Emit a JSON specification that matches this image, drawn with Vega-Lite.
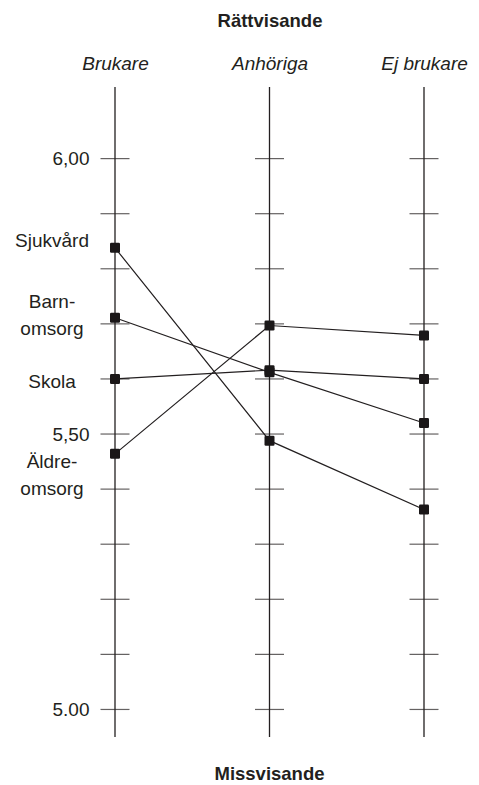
{
  "$schema": "https://vega.github.io/schema/vega-lite/v6.json",
  "width": 309,
  "height": 650,
  "autosize": {"type": "none"},
  "padding": {"left": 115, "top": 87, "right": 55, "bottom": 48},
  "background": "white",
  "config": {
    "view": {"stroke": null},
    "font": "Liberation Sans",
    "axisY": {
      "labelFontSize": 19,
      "labelColor": "#231f20",
      "labelPadding": 26,
      "ticks": false,
      "tickSize": 0,
      "domain": false,
      "grid": false,
      "labelOverlap": false,
      "labelBound": false,
      "labelFlush": false
    }
  },
  "title": {"text": "Missvisande", "orient": "bottom", "anchor": "middle", "frame": "group", "fontSize": 18.5, "fontWeight": "bold", "color": "#231f20", "offset": 27, "font": "Liberation Sans"},
  "datasets": {
    "main": [
      {"group": "Brukare", "category": "Sjukvård", "value": 5.838},
      {"group": "Anhöriga", "category": "Sjukvård", "value": 5.488},
      {"group": "Ej brukare", "category": "Sjukvård", "value": 5.363},
      {"group": "Brukare", "category": "Barnomsorg", "value": 5.711},
      {"group": "Anhöriga", "category": "Barnomsorg", "value": 5.612},
      {"group": "Ej brukare", "category": "Barnomsorg", "value": 5.520},
      {"group": "Brukare", "category": "Skola", "value": 5.600},
      {"group": "Anhöriga", "category": "Skola", "value": 5.616},
      {"group": "Ej brukare", "category": "Skola", "value": 5.600},
      {"group": "Brukare", "category": "Äldreomsorg", "value": 5.464},
      {"group": "Anhöriga", "category": "Äldreomsorg", "value": 5.697},
      {"group": "Ej brukare", "category": "Äldreomsorg", "value": 5.679}
    ],
    "axes": [
      {"group": "Brukare", "tick": [5.0, 5.1, 5.2, 5.3, 5.4, 5.5, 5.6, 5.7, 5.8, 5.9, 6.0]},
      {"group": "Anhöriga", "tick": [5.0, 5.1, 5.2, 5.3, 5.4, 5.5, 5.6, 5.7, 5.8, 5.9, 6.0]},
      {"group": "Ej brukare", "tick": [5.0, 5.1, 5.2, 5.3, 5.4, 5.5, 5.6, 5.7, 5.8, 5.9, 6.0]}
    ],
    "labels": [
      {"group": "Brukare", "label": "Sjukvård", "pos": 5.85},
      {"group": "Brukare", "label": "Barn-\nomsorg", "pos": 5.740},
      {"group": "Brukare", "label": "Skola", "pos": 5.594},
      {"group": "Brukare", "label": "Äldre-\nomsorg", "pos": 5.449}
    ]
  },
  "encoding": {
    "x": {
      "field": "group",
      "type": "nominal",
      "scale": {"type": "point", "domain": ["Brukare", "Anhöriga", "Ej brukare"], "padding": 0},
      "axis": {
        "orient": "top",
        "title": "Rättvisande",
        "titleFontSize": 18.5,
        "titleFontWeight": "bold",
        "titleColor": "#231f20",
        "titlePadding": 24,
        "labelFontSize": 19,
        "labelFontStyle": "italic",
        "labelColor": "#231f20",
        "labelAngle": 0,
        "labelPadding": 14,
        "labelOverlap": false,
        "labelBound": false,
        "labelFlush": false,
        "ticks": false,
        "tickSize": 0,
        "domain": false,
        "grid": false
      }
    }
  },
  "layer": [
    {
      "data": {"name": "axes"},
      "mark": {"type": "rule", "color": "#231f20", "strokeWidth": 1.3},
      "encoding": {}
    },
    {
      "data": {"name": "axes"},
      "transform": [{"flatten": ["tick"]}],
      "mark": {"type": "tick", "orient": "horizontal", "size": 29, "thickness": 1.2, "color": "#231f20"},
      "encoding": {
        "y": {
          "field": "tick",
          "type": "quantitative",
          "scale": {"domain": [4.95, 6.13], "nice": false, "zero": false},
          "axis": {"title": null, "values": [5.0, 5.5, 6.0], "labelExpr": "datum.value >= 5.99 ? '6,00' : (datum.value >= 5.49 ? '5,50' : '5.00')"}
        }
      }
    },
    {
      "data": {"name": "main"},
      "mark": {"type": "line", "color": "#231f20", "strokeWidth": 1.2},
      "encoding": {
        "y": {"field": "value", "type": "quantitative", "axis": {"title": null, "values": [5.0, 5.5, 6.0], "labelExpr": "datum.value >= 5.99 ? '6,00' : (datum.value >= 5.49 ? '5,50' : '5.00')"}},
        "detail": {"field": "category", "type": "nominal"},
        "order": {"value": null}
      }
    },
    {
      "data": {"name": "main"},
      "mark": {"type": "point", "filled": true, "shape": "M-1,-0.75 Q-1,-1 -0.75,-1 L0.75,-1 Q1,-1 1,-0.75 L1,0.75 Q1,1 0.75,1 L-0.75,1 Q-1,1 -1,0.75 Z", "size": 100, "color": "#1a1718", "opacity": 1},
      "encoding": {
        "y": {"field": "value", "type": "quantitative", "axis": {"title": null, "values": [5.0, 5.5, 6.0], "labelExpr": "datum.value >= 5.99 ? '6,00' : (datum.value >= 5.49 ? '5,50' : '5.00')"}}
      }
    },
    {
      "data": {"name": "labels"},
      "mark": {"type": "text", "align": "center", "baseline": "middle", "dx": -63, "fontSize": 19, "lineHeight": 27, "lineBreak": "\n", "color": "#231f20"},
      "encoding": {
        "y": {"field": "pos", "type": "quantitative", "axis": {"title": null, "values": [5.0, 5.5, 6.0], "labelExpr": "datum.value >= 5.99 ? '6,00' : (datum.value >= 5.49 ? '5,50' : '5.00')"}},
        "text": {"field": "label", "type": "nominal"}
      }
    }
  ]
}
